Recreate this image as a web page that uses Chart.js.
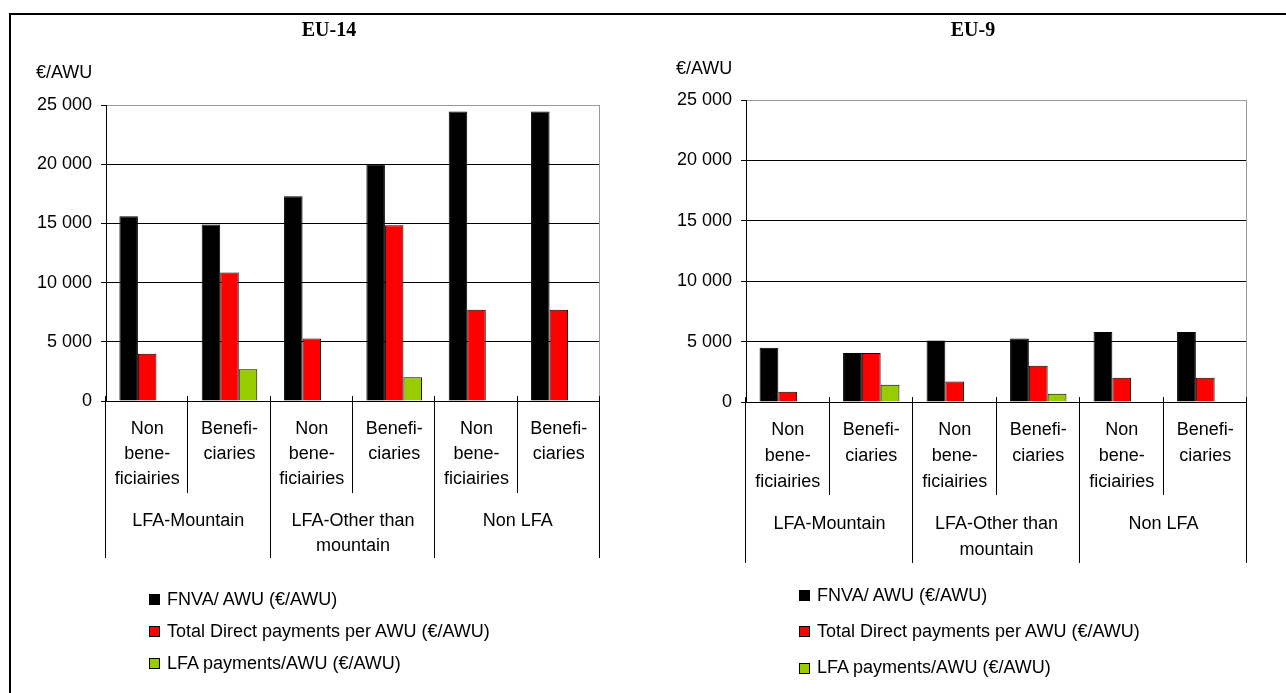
<!DOCTYPE html>
<html>
<head>
<meta charset="utf-8">
<script src="https://cdn.jsdelivr.net/npm/chart.js@4.4.1/dist/chart.umd.min.js"></script>
<style>
  body { margin: 0; width: 1286px; height: 693px; position: relative; overflow: hidden; background: #fff;
         font-family: "Liberation Sans", Arial, sans-serif; color: #000; }
  #frame { position: absolute; left: 9px; top: 13px; right: 0; bottom: 0; border-top: 2px solid #000; border-left: 2px solid #000; }
  canvas { position: absolute; top: 0; }
  .title { position: absolute; font: bold 20px/20px "Liberation Serif", "Times New Roman", serif; transform: translateX(-50%); white-space: nowrap; }
  .unit { position: absolute; font-size: 18px; line-height: 18px; }
  .legend { position: absolute; left: 0; top: 0; }
  .item { position: absolute; font-size: 18px; line-height: 18px; white-space: nowrap; }
  .box { position: absolute; width: 9px; height: 9px; border: 1px solid #000; }
</style>
</head>
<body>
<div id="frame"></div>
<canvas id="eu14" width="640" height="693" style="left:0"></canvas>
<canvas id="eu9" width="646" height="693" style="left:640px"></canvas>
<div class="title" style="left:329px; top:19px">EU-14</div>
<div class="title" style="left:973px; top:19px">EU-9</div>
<div class="unit" style="left:36px; top:63px">€/AWU</div>
<div class="unit" style="left:676px; top:59px">€/AWU</div>
<div id="legend14" class="legend"></div>
<div id="legend9" class="legend"></div>
<script>
// categories (two-level x axis)
const categories = [
  ['Non', 'bene-', 'ficiairies'], ['Benefi-', 'ciaries'],
  ['Non', 'bene-', 'ficiairies'], ['Benefi-', 'ciaries'],
  ['Non', 'bene-', 'ficiairies'], ['Benefi-', 'ciaries']
];
const groups = [['LFA-Mountain'], ['LFA-Other than', 'mountain'], ['Non LFA']];
const seriesNames = ['FNVA/ AWU (€/AWU)', 'Total Direct payments per AWU (€/AWU)', 'LFA payments/AWU (€/AWU)'];
const yTicks = [0, 5000, 10000, 15000, 20000, 25000];

// EU-14
const eu14Fnva = [15600, 14900, 17300, 20000, 24450, 24450];
const eu14Direct = [4000, 10850, 5280, 14850, 7700, 7700];
const eu14Lfa = [null, 2680, null, 2000, null, null];

// EU-9
const eu9Fnva = [4500, 4050, 5100, 5250, 5800, 5800];
const eu9Direct = [850, 4050, 1700, 3000, 2000, 2000];
const eu9Lfa = [null, 1420, null, 680, null, null];

const colors = ['#000000', '#ff0000', '#99cc00'];
const FONT = '"Liberation Sans", Arial, sans-serif';

Chart.defaults.font.family = FONT;
Chart.defaults.font.size = 18;
Chart.defaults.color = '#000';

// draws the category separators, sub labels and group labels under the plot
const categoryAxis = {
  id: 'categoryAxis',
  afterDraw(chart, args, o) {
    const { ctx, chartArea } = chart;
    const x = chart.scales.x;
    const n = categories.length;
    const step = x.width / n;
    const bottom = chartArea.bottom;
    ctx.save();
    // plot right edge
    ctx.strokeStyle = '#999';
    ctx.lineWidth = 1;
    ctx.beginPath();
    ctx.moveTo(Math.round(chartArea.right) - 0.5, chartArea.top);
    ctx.lineTo(Math.round(chartArea.right) - 0.5, bottom);
    ctx.stroke();

    ctx.strokeStyle = '#000';
    for (let i = 0; i <= n; i++) {
      const px = Math.round(x.left + i * step) - 0.5;
      const len = i % 2 === 0 ? o.outerLen : o.innerLen;
      ctx.beginPath();
      ctx.moveTo(px, bottom - 5);
      ctx.lineTo(px, bottom + len);
      ctx.stroke();
    }

    ctx.fillStyle = '#000';
    ctx.font = '18px ' + FONT;
    ctx.textAlign = 'center';
    ctx.textBaseline = 'alphabetic';
    categories.forEach((lines, i) => {
      const cx = x.getPixelForValue(i);
      lines.forEach((t, j) => ctx.fillText(t, cx, bottom + o.sub0 + j * o.subStep));
    });
    groups.forEach((lines, g) => {
      const cx = (x.getPixelForValue(g * 2) + x.getPixelForValue(g * 2 + 1)) / 2;
      lines.forEach((t, j) => ctx.fillText(t, cx, bottom + o.grp0 + j * o.grpStep));
    });
    ctx.restore();
  }
};

function makeChart(id, values, pad, axisOpts) {
  return new Chart(document.getElementById(id), {
    type: 'bar',
    data: {
      labels: categories,
      datasets: values.map((v, i) => ({
        label: seriesNames[i],
        data: v,
        backgroundColor: colors[i],
        borderColor: '#000',
        borderWidth: 1,
        barPercentage: 1,
        categoryPercentage: 0.675
      }))
    },
    options: {
      responsive: false,
      animation: false,
      devicePixelRatio: 1,
      layout: { padding: pad },
      plugins: {
        legend: { display: false },
        tooltip: { enabled: false },
        categoryAxis: axisOpts
      },
      scales: {
        x: { display: false },
        y: {
          min: yTicks[0],
          max: yTicks[yTicks.length - 1],
          afterBuildTicks: s => { s.ticks = yTicks.map(v => ({ value: v })); },
          afterFit: s => { s.width = 106; },
          border: { color: '#000' },
          grid: {
            color: c => (c.tick && c.tick.value === yTicks[yTicks.length - 1]) ? '#999' : '#000',
            tickColor: '#000',
            tickLength: 5
          },
          ticks: {
            padding: 9,
            callback: v => String(v).replace(/\B(?=(\d{3})+(?!\d))/g, ' ')
          }
        }
      }
    },
    plugins: [categoryAxis]
  });
}

makeChart('eu14', [eu14Fnva, eu14Direct, eu14Lfa],
  { left: 0, top: 105, right: 40, bottom: 292 },
  { sub0: 33.3, subStep: 25, grp0: 124.7, grpStep: 25.5, innerLen: 92, outerLen: 157 });

makeChart('eu9', [eu9Fnva, eu9Direct, eu9Lfa],
  { left: 0, top: 100, right: 39, bottom: 291 },
  { sub0: 33.3, subStep: 25.8, grp0: 126.6, grpStep: 26.5, innerLen: 93, outerLen: 161 });

// html legends
function makeLegend(id, boxX, textX, baseline0, rowStep) {
  const el = document.getElementById(id);
  seriesNames.forEach((name, i) => {
    const base = baseline0 + i * rowStep;
    const box = document.createElement('div');
    box.className = 'box';
    box.style.left = boxX + 'px';
    box.style.top = (base - 11) + 'px';
    box.style.background = colors[i];
    el.appendChild(box);
    const t = document.createElement('div');
    t.className = 'item';
    t.style.left = textX + 'px';
    t.style.top = (base - 15.2) + 'px';
    t.textContent = name;
    el.appendChild(t);
  });
}
makeLegend('legend14', 149, 167, 605, 32);
makeLegend('legend9', 799, 817, 601, 36.3);
</script>
</body>
</html>
